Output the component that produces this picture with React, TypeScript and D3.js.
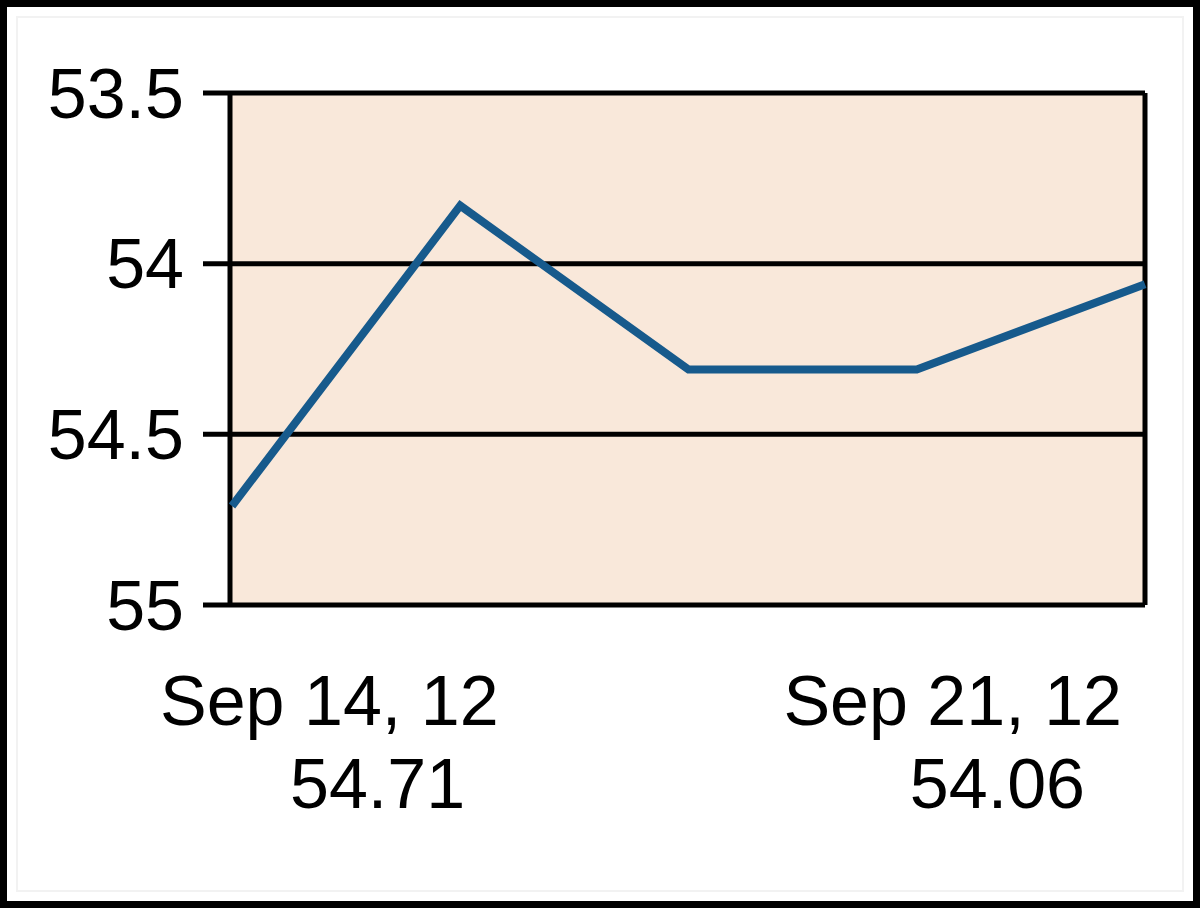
import React from "react";
import * as d3 from "d3";

const dates = ["Sep 14, 12", "Sep 17, 12", "Sep 18, 12", "Sep 19, 12", "Sep 21, 12"];
const values = [54.71, 53.83, 54.31, 54.31, 54.06];
const yTicks = [53.5, 54, 54.5, 55];
const firstValueLabel = "54.71";
const lastValueLabel = "54.06";

const W = 1200;
const H = 908;
const plot = { left: 230, right: 1145, top: 93, bottom: 605 };
const FONT = "'Liberation Sans', Arial, sans-serif";

export default function App() {
  const x = d3.scalePoint<string>().domain(dates).range([plot.left + 2, plot.right]);
  const y = d3.scaleLinear().domain([53.5, 55]).range([plot.top, plot.bottom]);
  const line = d3
    .line<number>()
    .x((_, i) => x(dates[i]) as number)
    .y((d) => y(d));

  const x0 = x(dates[0]) as number;
  const xN = x(dates[dates.length - 1]) as number;

  return (
    <svg
      width={W}
      height={H}
      style={{ position: "absolute", left: 0, top: 0, background: "#fff" }}
      fontFamily={FONT}
    >
      <rect x={0} y={0} width={W} height={H} fill="#fff" />
      <rect x={17} y={17} width={W - 34} height={H - 34} fill="none" stroke="#f2f2f2" strokeWidth={2} />
      <rect x={3.5} y={3.5} width={W - 7} height={H - 7} fill="none" stroke="#000" strokeWidth={7} />

      <rect
        x={plot.left}
        y={plot.top}
        width={plot.right - plot.left}
        height={plot.bottom - plot.top}
        fill="#F9E8DA"
      />
      {yTicks.map((t) => (
        <g key={t}>
          <line x1={203} x2={plot.right} y1={y(t)} y2={y(t)} stroke="#000" strokeWidth={5} />
          <text x={184} y={y(t)} dy="0.35em" textAnchor="end" fontSize={70} fill="#000">
            {t}
          </text>
        </g>
      ))}
      <line x1={plot.left} x2={plot.left} y1={plot.top} y2={plot.bottom} stroke="#000" strokeWidth={5} />
      <line x1={plot.right} x2={plot.right} y1={plot.top} y2={plot.bottom} stroke="#000" strokeWidth={5} />

      <path
        d={line(values) || ""}
        fill="none"
        stroke="#175A8C"
        strokeWidth={8}
        strokeLinejoin="miter"
      />

      <text x={x0 - 72} y={725} fontSize={70} fill="#000">
        {dates[0]}
      </text>
      <text x={x0 + 58} y={808} fontSize={70} fill="#000">
        {firstValueLabel}
      </text>
      <text x={xN - 23} y={725} fontSize={70} textAnchor="end" fill="#000">
        {dates[dates.length - 1]}
      </text>
      <text x={xN - 60} y={808} fontSize={70} textAnchor="end" fill="#000">
        {lastValueLabel}
      </text>
    </svg>
  );
}
